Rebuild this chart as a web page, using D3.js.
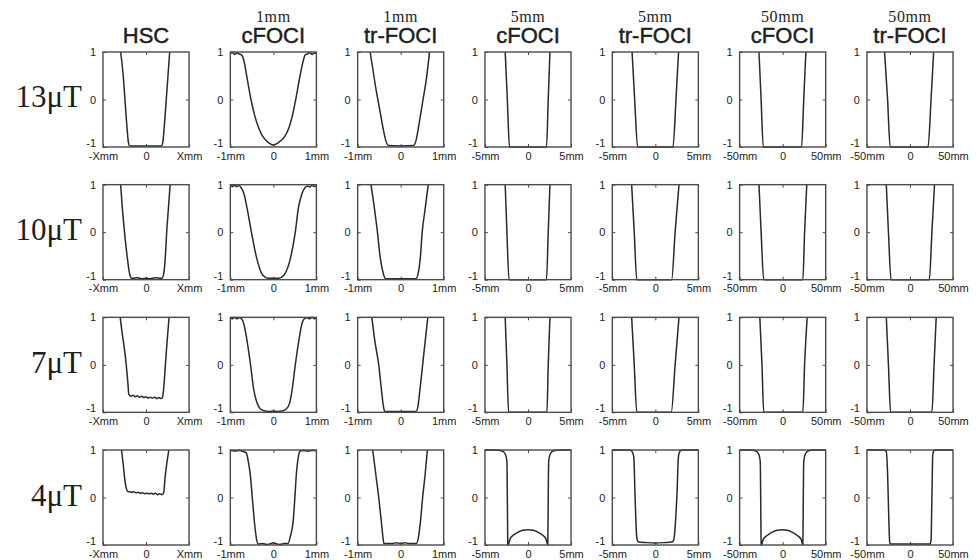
<!DOCTYPE html>
<html>
<head>
<meta charset="utf-8">
<script src="https://cdn.jsdelivr.net/npm/d3@7/dist/d3.min.js"></script>
<style>
  html, body { margin: 0; padding: 0; background: #ffffff; }
  svg { display: block; }
</style>
</head>
<body>
<svg id="chart" width="980" height="560"></svg>
<script>
// Column headings (method) with the sample size written above them
const methodNames = ["HSC", "cFOCI", "tr-FOCI", "cFOCI", "tr-FOCI", "cFOCI", "tr-FOCI"];
const sizeNames   = ["", "1mm", "1mm", "5mm", "5mm", "50mm", "50mm"];
// Half-width of the slice profile per column (HSC has no fixed size)
const halfWidths  = [1, 1, 1, 5, 5, 50, 50];
const xTickLabels = [
  ["-Xmm", "0", "Xmm"], ["-1mm", "0", "1mm"], ["-1mm", "0", "1mm"],
  ["-5mm", "0", "5mm"], ["-5mm", "0", "5mm"],
  ["-50mm", "0", "50mm"], ["-50mm", "0", "50mm"]
];
const yTickLabels = ["1", "0", "-1"];
// B1 amplitude per row
const rowLabels = ["13\u03bcT", "10\u03bcT", "7\u03bcT", "4\u03bcT"];

// Longitudinal magnetisation profiles, [position, Mz], one list per panel
const profiles13uT = [
  [[-0.59,1],[-0.53,0.5],[-0.49,0],[-0.45,-0.5],[-0.41,-0.9],[-0.38,-0.98],[0,-0.98],[0.36,-0.98],[0.39,-0.9],[0.43,-0.5],[0.47,0],[0.51,0.5],[0.55,1]],
  [[-1,0.97],[-0.95,0.99],[-0.9,0.95],[-0.85,0.98],[-0.8,0.96],[-0.74,0.94],[-0.68,0.8],[-0.62,0.5],[-0.52,0],[-0.43,-0.35],[-0.34,-0.6],[-0.25,-0.77],[-0.16,-0.87],[-0.08,-0.93],[0,-0.96],[0.08,-0.93],[0.17,-0.87],[0.27,-0.77],[0.36,-0.6],[0.44,-0.35],[0.52,0],[0.62,0.5],[0.69,0.8],[0.74,0.94],[0.8,0.96],[0.85,0.99],[0.9,0.95],[0.95,0.98],[1,0.97]],
  [[-0.71,1],[-0.64,0.6],[-0.58,0.25],[-0.53,0],[-0.47,-0.3],[-0.41,-0.6],[-0.35,-0.85],[-0.29,-0.97],[0,-0.98],[0.3,-0.97],[0.36,-0.85],[0.43,-0.5],[0.52,0],[0.6,0.45],[0.67,1]],
  [[-2.65,1],[-2.4,0],[-2.15,-1],[0,-1],[2.15,-1],[2.35,0],[2.55,1]],
  [[-2.7,1],[-2.4,0],[-2.05,-1],[0,-1],[2.05,-1],[2.4,0],[2.7,1]],
  [[-27.5,1],[-25,0],[-22.5,-1],[0,-1],[22,-1],[24.5,0],[27,1]],
  [[-29.5,1],[-26,0],[-23,-1],[0,-1],[21,-1],[24.5,0],[27.5,1]]
];
const profiles10uT = [
  [[-0.59,1],[-0.55,0.5],[-0.5,0],[-0.44,-0.5],[-0.38,-0.88],[-0.33,-0.97],[-0.2,-0.96],[-0.1,-0.98],[0,-0.97],[0.1,-0.98],[0.2,-0.96],[0.37,-0.97],[0.41,-0.88],[0.45,-0.5],[0.48,0],[0.52,0.5],[0.56,1]],
  [[-1,0.98],[-0.95,0.96],[-0.9,0.99],[-0.85,0.96],[-0.8,0.98],[-0.76,0.95],[-0.68,0.8],[-0.61,0.5],[-0.51,0],[-0.4,-0.5],[-0.25,-0.9],[-0.12,-0.97],[0,-0.97],[0.12,-0.97],[0.25,-0.9],[0.41,-0.5],[0.51,0],[0.58,0.5],[0.66,0.8],[0.74,0.94],[0.8,0.97],[0.85,0.95],[0.9,0.99],[0.95,0.96],[1,0.98]],
  [[-0.69,1],[-0.61,0.5],[-0.54,0],[-0.48,-0.5],[-0.41,-0.85],[-0.35,-0.98],[0,-0.98],[0.35,-0.98],[0.41,-0.85],[0.46,-0.5],[0.5,0],[0.57,0.5],[0.64,1]],
  [[-2.65,1],[-2.45,0],[-2.2,-1],[0,-1],[2.15,-1],[2.35,0],[2.55,1]],
  [[-2.75,1],[-2.45,0],[-2.15,-1],[0,-1],[1.9,-1],[2.3,0],[2.75,1]],
  [[-27.5,1],[-25,0],[-22,-1],[0,-1],[23.5,-1],[25.5,0],[28,1]],
  [[-27.5,1],[-25,0],[-22,-1],[0,-1],[22.5,-1],[25.5,0],[28.5,1]]
];
const profiles7uT = [
  [[-0.6,1],[-0.56,0.7],[-0.51,0.39],[-0.46,0],[-0.42,-0.4],[-0.4,-0.62],[-0.35,-0.66],[-0.3,-0.64],[-0.25,-0.67],[-0.2,-0.65],[-0.15,-0.68],[-0.1,-0.66],[-0.05,-0.69],[0,-0.67],[0.05,-0.7],[0.1,-0.68],[0.15,-0.7],[0.2,-0.68],[0.25,-0.71],[0.3,-0.69],[0.35,-0.71],[0.38,-0.69],[0.41,-0.5],[0.45,0],[0.49,0.5],[0.535,1]],
  [[-1,0.99],[-0.95,0.97],[-0.9,1],[-0.85,0.97],[-0.8,0.99],[-0.73,0.96],[-0.67,0.8],[-0.61,0.5],[-0.53,0],[-0.46,-0.5],[-0.38,-0.8],[-0.3,-0.93],[-0.2,-0.97],[-0.1,-0.98],[0,-0.97],[0.1,-0.98],[0.2,-0.97],[0.3,-0.93],[0.38,-0.8],[0.44,-0.5],[0.51,0],[0.59,0.5],[0.66,0.85],[0.72,0.97],[0.78,0.99],[0.85,0.97],[0.9,1],[0.95,0.97],[1,0.99]],
  [[-0.67,1],[-0.6,0.5],[-0.51,0],[-0.45,-0.5],[-0.4,-0.88],[-0.37,-0.98],[0,-0.98],[0.36,-0.98],[0.4,-0.88],[0.45,-0.5],[0.51,0],[0.57,0.5],[0.63,1]],
  [[-2.65,1],[-2.45,0],[-2.25,-1],[0,-1],[2.2,-1],[2.35,0],[2.55,1]],
  [[-2.75,1],[-2.45,0],[-2.15,-1],[0,-1],[1.85,-1],[2.3,0],[2.75,1]],
  [[-26.5,1],[-24,0],[-22,-1],[0,-1],[23.5,-1],[25.5,0],[28.5,1]],
  [[-27.5,1],[-25,0],[-22.5,-1],[0,-1],[25.5,-1],[28,0],[30.5,1]]
];
const profiles4uT = [
  [[-0.57,1],[-0.53,0.7],[-0.5,0.43],[-0.46,0.2],[-0.43,0.13],[-0.38,0.12],[-0.33,0.11],[-0.28,0.12],[-0.23,0.1],[-0.18,0.11],[-0.13,0.09],[-0.08,0.1],[-0.03,0.08],[0.02,0.09],[0.07,0.08],[0.12,0.09],[0.17,0.07],[0.22,0.09],[0.27,0.06],[0.32,0.08],[0.37,0.06],[0.41,0.1],[0.44,0.4],[0.48,0.7],[0.53,1]],
  [[-1,0.99],[-0.9,0.98],[-0.8,0.99],[-0.7,0.97],[-0.63,0.94],[-0.58,0.75],[-0.53,0.43],[-0.49,0],[-0.43,-0.6],[-0.39,-0.88],[-0.35,-0.98],[-0.25,-0.97],[-0.15,-0.99],[-0.05,-0.97],[0,-0.95],[0.05,-0.97],[0.15,-0.99],[0.25,-0.97],[0.34,-0.97],[0.4,-0.8],[0.46,-0.5],[0.5,0],[0.535,0.5],[0.58,0.85],[0.62,0.98],[0.7,0.99],[0.8,0.98],[0.9,0.99],[1,0.99]],
  [[-0.65,1],[-0.58,0.5],[-0.51,0],[-0.45,-0.5],[-0.41,-0.85],[-0.39,-0.97],[-0.2,-0.97],[-0.1,-0.95],[0,-0.97],[0.1,-0.95],[0.2,-0.97],[0.36,-0.97],[0.41,-0.85],[0.46,-0.5],[0.51,0],[0.57,0.5],[0.62,1]],
  [[-5,1],[-3.75,1],[-3,0.98],[-2.6,0.9],[-2.45,0.75],[-2.4,0],[-2.35,-0.99],[-2.3,-1],[-2.1,-0.88],[-1.75,-0.8],[-1.25,-0.74],[-0.6,-0.69],[0,-0.68],[0.6,-0.69],[1.25,-0.74],[1.75,-0.8],[2.1,-0.88],[2.3,-1],[2.35,0],[2.4,0.75],[2.55,0.9],[2.9,0.98],[3.75,1],[5,1]],
  [[-5,1],[-3,1],[-2.7,0.97],[-2.5,0.85],[-2.35,0],[-2.15,-0.85],[-2,-0.93],[-1,-0.95],[0,-0.96],[1,-0.95],[2,-0.93],[2.15,-0.88],[2.5,0],[2.7,0.88],[2.9,0.98],[3.25,1],[5,1]],
  [[-50,1],[-37.5,1],[-31,0.98],[-27.5,0.9],[-26,0.75],[-25.5,0],[-25,-0.99],[-24.5,-1],[-22.5,-0.88],[-18,-0.8],[-13,-0.74],[-6.5,-0.69],[-0.5,-0.68],[5.5,-0.69],[12,-0.74],[17,-0.8],[21.5,-0.88],[23.5,-1],[24,0],[24.5,0.75],[26,0.9],[29.5,0.98],[36,1],[50,1]],
  [[-50,1],[-30,1],[-27.5,0.97],[-26,0.5],[-24.5,-0.5],[-23.5,-0.95],[-22,-0.98],[0,-0.98],[23,-0.98],[24.5,-0.9],[25.5,0],[26.5,0.9],[28,0.99],[30,1],[50,1]]
];
const allProfiles = [profiles13uT, profiles10uT, profiles7uT, profiles4uT];

const svg = d3.select("#chart");

// Panel grid
const colBand = d3.scaleBand().domain(d3.range(methodNames.length))
  .range([103, 953]).paddingInner(0.324).paddingOuter(0);
const rowBand = d3.scaleBand().domain(d3.range(rowLabels.length))
  .range([52, 545]).paddingInner(0.284).paddingOuter(0);
const pw = colBand.bandwidth();
const ph = rowBand.bandwidth();

const ink = "#2a2a2a";
const frame = "#4a4a4a";
const tickFont = "Liberation Sans, Arial, sans-serif";

// Column headings
methodNames.forEach((name, c) => {
  const cx = colBand(c) + pw / 2;
  svg.append("text")
    .attr("x", cx).attr("y", 43)
    .attr("text-anchor", "middle")
    .attr("font-family", tickFont)
    .attr("font-size", 22)
    .attr("fill", "#1e1e1e")
    .attr("stroke", "#1e1e1e")
    .attr("stroke-width", 0.45)
    .text(name);
  if (sizeNames[c]) {
    svg.append("text")
      .attr("x", cx).attr("y", 21.5)
      .attr("text-anchor", "middle")
      .attr("font-family", "Liberation Serif, Times New Roman, serif")
      .attr("font-size", 16)
      .attr("letter-spacing", 0.6)
      .attr("fill", "#1e1e1e")
      .text(sizeNames[c]);
  }
});

// Row labels
rowLabels.forEach((lab, r) => {
  svg.append("text")
    .attr("x", 82).attr("y", rowBand(r) + ph / 2 + 8)
    .attr("text-anchor", "end")
    .attr("font-family", "Liberation Serif, Times New Roman, serif")
    .attr("font-size", 31)
    .attr("fill", "#1e1e1e")
    .text(lab);
});

const line = d3.line().curve(d3.curveMonotoneX);

allProfiles.forEach((rowProfiles, r) => {
  rowProfiles.forEach((pts, c) => {
    const x0 = colBand(c), y0 = rowBand(r);
    const hw = halfWidths[c];
    const x = d3.scaleLinear().domain([-hw, hw]).range([x0, x0 + pw]);
    const y = d3.scaleLinear().domain([-1, 1]).range([y0 + ph, y0]);
    const g = svg.append("g");

    // x axis labels and inward ticks (bottom and top)
    const xAxisB = d3.axisBottom(x).tickValues([-hw, 0, hw])
      .tickFormat((d, i) => xTickLabels[c][i]).tickSizeInner(-3).tickSizeOuter(0).tickPadding(6);
    const gb = g.append("g").attr("transform", `translate(0,${y0 + ph})`).call(xAxisB);
    const xAxisT = d3.axisTop(x).tickValues([0]).tickFormat("").tickSizeInner(-3).tickSizeOuter(0);
    const gt = g.append("g").attr("transform", `translate(0,${y0})`).call(xAxisT);

    // y axis labels and inward ticks (left and right)
    const yAxisL = d3.axisLeft(y).tickValues([1, 0, -1])
      .tickFormat((d, i) => yTickLabels[i]).tickSizeInner(-3).tickSizeOuter(0).tickPadding(7);
    const gl = g.append("g").attr("transform", `translate(${x0},0)`).call(yAxisL);
    const yAxisR = d3.axisRight(y).tickValues([0]).tickFormat("").tickSizeInner(-3).tickSizeOuter(0);
    const gr = g.append("g").attr("transform", `translate(${x0 + pw},0)`).call(yAxisR);

    [gb, gt, gl, gr].forEach(a => {
      a.select(".domain").remove();
      a.selectAll("line").attr("stroke", frame).attr("stroke-width", 1);
      a.selectAll("text").attr("font-family", tickFont).attr("font-size", 11).attr("fill", "#222");
    });
    gb.selectAll("text").attr("dy", "0.6em");
    gl.selectAll("text").filter((d) => d === -1).attr("dy", "-0.05em");

    // profile curve
    g.append("path")
      .attr("d", line(pts.map(p => [x(p[0]), y(p[1])])))
      .attr("fill", "none")
      .attr("stroke", ink)
      .attr("stroke-width", 1.5)
      .attr("stroke-linejoin", "round");

    // panel frame
    g.append("rect")
      .attr("x", x0).attr("y", y0).attr("width", pw).attr("height", ph)
      .attr("fill", "none").attr("stroke", frame).attr("stroke-width", 1.4);
  });
});
</script>
</body>
</html>
